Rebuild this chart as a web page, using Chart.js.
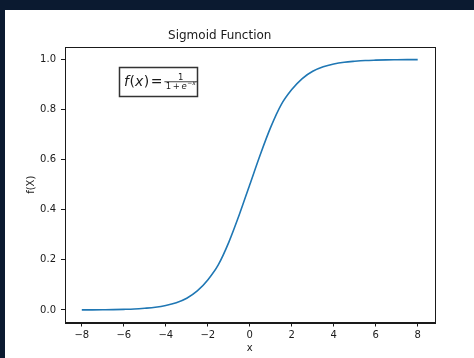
<!DOCTYPE html>
<html>
<head>
<meta charset="utf-8">
<script src="https://cdn.jsdelivr.net/npm/chart.js@4/dist/chart.umd.min.js"></script>
<style>
  html, body { margin:0; padding:0; background:#0b1a30; width:474px; height:358px; overflow:hidden; }
  #wrap { position:absolute; left:5px; top:10px; width:469px; height:348px; background:#fff; }
  canvas { display:block; }
</style>
</head>
<body>
<div id="wrap"><canvas id="sig" width="469" height="348"></canvas></div>
<script>
// values
const xVals = [-8,-7.5,-7,-6.5,-6,-5.5,-5,-4.5,-4,-3.5,-3,-2.5,-2,-1.5,-1,-0.5,0,0.5,1,1.5,2,2.5,3,3.5,4,4.5,5,5.5,6,6.5,7,7.5,8];
const fVals = [0.0003,0.0006,0.001,0.0015,0.0025,0.004,0.007,0.011,0.018,0.029,0.047,0.076,0.12,0.18,0.27,0.38,0.5,
               0.62,0.73,0.82,0.88,0.924,0.953,0.971,0.982,0.989,0.993,0.996,0.9975,0.9985,0.999,0.9994,0.9997];
const xTicks = [-8,-6,-4,-2,0,2,4,6,8];
const yTicks = [0,0.2,0.4,0.6,0.8,1.0];

const FONT = "'DejaVu Sans', sans-serif";
const TEXTBOX_AT = {x:-4.37, y:0.912}; // centre of the formula box, in data units

const minus = v => v < 0 ? '\u2212' + Math.abs(v) : String(v);

// draws a run of [font, text, gapAfter] pieces, returns the end x
function run(ctx, pieces, x, y){
  pieces.forEach(([f, t, gap]) => {
    ctx.font = f;
    ctx.fillText(t, x, y);
    x += ctx.measureText(t).width + (gap || 0);
  });
  return x;
}
function runWidth(ctx, pieces){
  let w = 0;
  pieces.forEach(([f, t, gap]) => { ctx.font = f; w += ctx.measureText(t).width + (gap || 0); });
  return w;
}

const framePlugin = {
  id: 'frame',
  afterDraw(chart){
    const {ctx, chartArea:a, scales} = chart;
    ctx.save();
    ctx.strokeStyle = '#1a1a1a';
    ctx.lineWidth = 1;
    ctx.strokeRect(Math.round(a.left)+0.5, Math.round(a.top)+0.5, Math.round(a.right-a.left), Math.round(a.bottom-a.top));

    // formula box
    const cx = scales.x.getPixelForValue(TEXTBOX_AT.x);
    const cy = scales.y.getPixelForValue(TEXTBOX_AT.y);
    const w = 78, h = 29;
    const bx = Math.round(cx - w/2), by = Math.round(cy - h/2);
    ctx.fillStyle = '#fff';
    ctx.fillRect(bx, by, w, h);
    ctx.strokeStyle = '#333';
    ctx.lineWidth = 1.5;
    ctx.strokeRect(bx+0.5, by+0.5, w, h);

    ctx.fillStyle = '#1a1a1a';
    ctx.textBaseline = 'alphabetic';
    ctx.textAlign = 'left';
    const base = by + 19;
    const it = 'italic 14px ' + FONT, rm = '14px ' + FONT;
    let x = run(ctx, [[it,'f',0.5],[rm,'('],[it,'x',0.5],[rm,')',1.5],[rm,'=',2]], bx + 5, base);

    // fraction 1 / (1 + e^-x)
    const s8 = '8.5px ' + FONT, i8 = 'italic 8.5px ' + FONT;
    const den = [[s8,'1',1.5],[s8,'+',1.5],[i8,'e',0.5]];
    const dW = runWidth(ctx, den);
    ctx.font = 'italic 6px ' + FONT;
    const eW = ctx.measureText('\u2212x').width;
    const fw = dW + eW + 3;
    const barY = base - 4.6;
    ctx.fillRect(x, barY, fw, 0.8);
    ctx.font = s8;
    ctx.textAlign = 'center';
    ctx.fillText('1', x + fw/2, barY - 1.8);
    ctx.textAlign = 'left';
    const ex = run(ctx, den, x + 1.5, barY + 7.4);
    ctx.font = 'italic 6px ' + FONT;
    ctx.fillText('\u2212x', ex, barY + 4);
    ctx.restore();
  }
};

new Chart(document.getElementById('sig'), {
  type: 'line',
  data: {
    datasets: [{
      data: xVals.map((v,i) => ({x:v, y:fVals[i]})),
      borderColor: '#1f77b4',
      borderWidth: 1.6,
      pointRadius: 0,
      fill: false,
      cubicInterpolationMode: 'monotone'
    }]
  },
  options: {
    responsive: false,
    animation: false,
    devicePixelRatio: 1,
    layout: { padding: { left:0, right:39.5, top:0, bottom:0 } },
    plugins: {
      legend: { display:false },
      tooltip: { enabled:false },
      title: {
        display: true,
        text: 'Sigmoid Function',
        color: '#1a1a1a',
        font: { family: FONT, size: 12, weight: 'normal' },
        padding: { top: 19, bottom: 3.6 }
      }
    },
    scales: {
      x: {
        type: 'linear',
        min: -8.8, max: 8.8,
        afterBuildTicks: s => { s.ticks = xTicks.map(v => ({value:v})); },
        afterFit: s => { s.height = 35.5; },
        grid: { drawOnChartArea:false, drawTicks:true, tickLength:4, color:'#1a1a1a' },
        border: { display:true, color:'#1a1a1a', width:1 },
        ticks: { color:'#1a1a1a', padding:3, maxRotation:0, font:{family:FONT, size:10}, callback: v => minus(v) },
        title: { display:true, text:'x', color:'#1a1a1a', font:{family:FONT, size:10}, padding:{top:0, bottom:4} }
      },
      y: {
        type: 'linear',
        min: -0.05, max: 1.05,
        afterBuildTicks: s => { s.ticks = yTicks.map(v => ({value:v})); },
        afterFit: s => { s.width = 60; },
        grid: { drawOnChartArea:false, drawTicks:true, tickLength:4, color:'#1a1a1a' },
        border: { display:true, color:'#1a1a1a', width:1 },
        ticks: { color:'#1a1a1a', padding:5, font:{family:FONT, size:10}, callback: v => v.toFixed(1) },
        title: { display:true, text:'f(X)', color:'#1a1a1a', font:{family:FONT, size:10}, padding:{top:20, bottom:0} }
      }
    }
  },
  plugins: [framePlugin]
});
</script>
</body>
</html>
